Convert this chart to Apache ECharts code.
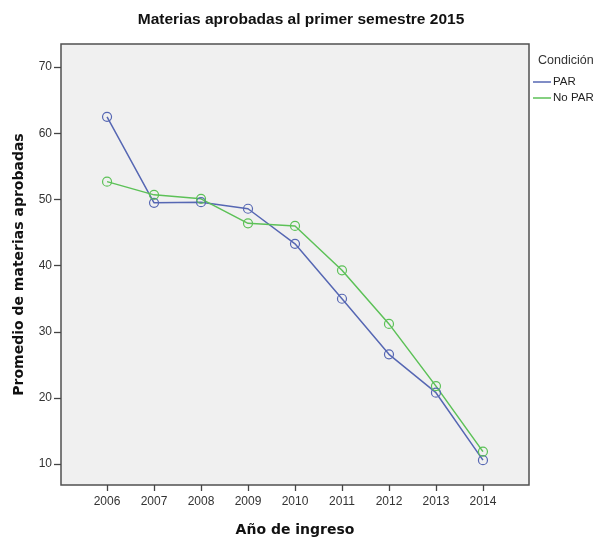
<!DOCTYPE html>
<html>
<head>
<meta charset="utf-8">
<script src="https://cdn.jsdelivr.net/npm/echarts@6/dist/echarts.min.js"></script>
<style>
  html, body { margin: 0; padding: 0; background: #fff; }
  #chart { width: 605px; height: 542px; }
</style>
</head>
<body>
<div id="chart"></div>
<script>
// datos
const years = [2006, 2007, 2008, 2009, 2010, 2011, 2012, 2013, 2014]
const par = [62.5, 49.5, 49.6, 48.6, 43.3, 35.0, 26.6, 20.8, 10.6]
const noPar = [52.7, 50.7, 50.1, 46.4, 46.0, 39.3, 31.2, 21.8, 11.9]
const yTicks = [10, 20, 30, 40, 50, 60, 70]

const font = 'Liberation Sans, Arial, sans-serif'
const wideFont = 'DejaVu Sans, Verdana, sans-serif'
const chart = echarts.init(document.getElementById('chart'), null, { renderer: 'canvas' })

const mkSeries = (name, color, values) => ({
  name: name,
  type: 'line',
  symbol: 'circle',
  symbolSize: 9,
  itemStyle: { color: 'rgba(0,0,0,0)', borderColor: color, borderWidth: 1.2 },
  lineStyle: { color: color, width: 1.5 },
  emphasis: { disabled: true },
  data: years.map((y, i) => [y, values[i]])
})

chart.setOption({
  animation: false,
  title: {
    text: 'Materias aprobadas al primer semestre 2015',
    left: 296,
    textAlign: 'center',
    top: 7,
    textStyle: { fontFamily: font, fontSize: 15.5, fontWeight: 'bold', color: '#111' }
  },
  graphic: [
    {
      type: 'text',
      left: 538,
      top: 54,
      style: { text: 'Condición', font: '12.5px ' + font, fill: '#333' }
    }
  ],
  legend: {
    orient: 'vertical',
    left: 533,
    top: 76,
    padding: 0,
    itemGap: 4,
    itemWidth: 18,
    itemHeight: 1.5,
    icon: 'rect',
    itemStyle: { borderWidth: 0 },
    textStyle: { fontFamily: font, fontSize: 11.5, color: '#222', padding: [0, 0, 0, -3] },
    data: [
      { name: 'PAR', itemStyle: { color: '#5667b3', borderWidth: 0 } },
      { name: 'No PAR', itemStyle: { color: '#5cc157', borderWidth: 0 } }
    ]
  },
  grid: {
    left: 61,
    right: 76,
    top: 44,
    bottom: 53,
    show: true,
    backgroundColor: '#f0f0f0',
    borderColor: '#505050',
    borderWidth: 1.5
  },
  xAxis: {
    type: 'value',
    min: 2005.02,
    max: 2014.98,
    name: 'Año de ingreso',
    nameLocation: 'middle',
    nameGap: 38,
    nameTextStyle: { fontFamily: wideFont, fontSize: 14, fontWeight: 'bold', color: '#111' },
    axisLine: { show: false },
    splitLine: { show: false },
    axisTick: { show: true, length: 6, customValues: years, lineStyle: { color: '#444', width: 1.3 } },
    axisLabel: {
      customValues: years,
      formatter: v => String(v),
      fontFamily: font, fontSize: 12, color: '#333', margin: 11
    }
  },
  yAxis: {
    type: 'value',
    min: 6.85,
    max: 73.5,
    name: 'Promedio de materias aprobadas',
    nameLocation: 'middle',
    nameGap: 35,
    nameTextStyle: { fontFamily: wideFont, fontSize: 14, fontWeight: 'bold', color: '#111' },
    axisLine: { show: false },
    splitLine: { show: false },
    axisTick: { show: true, length: 7, customValues: yTicks, lineStyle: { color: '#444', width: 1.3 } },
    axisLabel: { customValues: yTicks, fontFamily: font, fontSize: 12, color: '#333', margin: 9 }
  },
  series: [
    mkSeries('PAR', '#5667b3', par),
    mkSeries('No PAR', '#5cc157', noPar)
  ]
})
</script>
</body>
</html>
